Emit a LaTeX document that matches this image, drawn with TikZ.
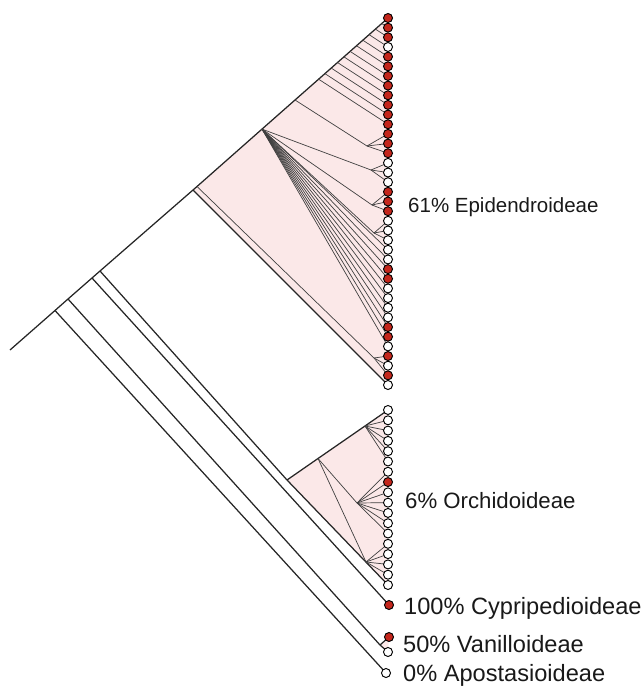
\documentclass[tikz,border=0pt]{standalone}
\usepackage{fontspec}
\setmainfont{Liberation Sans}
\pgfdeclarelayer{bg}
\pgfsetlayers{bg,main}
\definecolor{tipred}{RGB}{196,38,28}
\definecolor{pinkfill}{RGB}{251,232,232}
\begin{document}
\begin{tikzpicture}[x=1pt,y=-1pt,
  br/.style={line width=1.25pt,draw=black!85},
  fan/.style={line width=0.7pt,draw=black!75},
  tipR/.style={circle,draw=black,line width=0.95pt,fill=tipred,minimum size=9pt,inner sep=0pt},
  tipW/.style={circle,draw=black,line width=0.95pt,fill=white,minimum size=9pt,inner sep=0pt},
  lab/.style={anchor=base west,inner sep=0pt,text=black!90}]
\useasboundingbox (0,0) rectangle (643,687);
% ---------- tips: Epidendroideae ----------
\foreach \k/\c in {1/R,2/R,3/R,4/W,5/R,6/R,7/R,8/R,9/R,10/R,11/R,12/R,13/R,14/R,15/R,16/W,17/W,18/W,19/R,20/R,21/R,22/W,23/W,24/W,25/W,26/W,27/R,28/R,29/W,30/W,31/W,32/W,33/R,34/R,35/W,36/R,37/W,38/R,39/W}
  \node[tip\c] (e\k) at (388,{18+(\k-1)*9.658}) {};
% ---------- tips: Orchidoideae ----------
\foreach \k/\c in {1/W,2/W,3/W,4/W,5/W,6/W,7/W,8/R,9/W,10/W,11/W,12/W,13/W,14/W,15/W,16/W,17/W,18/W}
  \node[tip\c] (o\k) at (388,{410+(\k-1)*10.294}) {};
% ---------- other tips ----------
\node[tipR] (cyp) at (389,605) {};
\node[tipR] (va) at (389,637) {};
\node[tipW] (vb) at (388,652) {};
\node[tipW] (apo) at (386,673) {};
% ---------- internal nodes ----------
\coordinate (R0) at (10,350);
\coordinate (Ap) at (55,310.5);
\coordinate (Vn) at (68,299);
\coordinate (Cn) at (92,278);
\coordinate (On) at (100,271);
\coordinate (E0) at (193,190);
\coordinate (E1) at (197,186.5);
\coordinate (P) at (262,129.1);
\coordinate (N3) at (295,100);
\coordinate (Na) at (367,146);
\coordinate (Pa) at (371,170);
\coordinate (Pb) at (372,205);
\coordinate (Pc) at (374,233);
\coordinate (Eb) at (374,358);
\coordinate (V) at (380,645);
\coordinate (O0) at (287,480);
\coordinate (O1) at (318,458.5);
\coordinate (O2) at (365,426);
\coordinate (Od) at (357,503);
\coordinate (Ob) at (366,562);
% ladder nodes on the top edge
\foreach \k/\xx in {2/381.7,3/375.4,4/369.1,5/362.8,6/356.5,7/350.1,8/343.9,9/337.5,10/331.2,11/324.9,12/318.6}
  \coordinate (L\k) at (\xx,{360.2-0.882*\xx});
\begin{pgfonlayer}{bg}
  \fill[pinkfill] (E0) -- (e1.center) -- (e39.center) -- cycle;
  \fill[pinkfill] (O0) -- (o1.center) -- (o18.center) -- cycle;
  \fill[pinkfill] (V) -- (va.center) -- (vb.center) -- cycle;
  % backbone
  \draw[br] (R0) -- (Ap) -- (Vn) -- (Cn) -- (On) -- (E0) -- (E1) -- (P) -- (N3) -- (L12);
  \draw[br] (L12) -- (L11) -- (L10) -- (L9) -- (L8) -- (L7) -- (L6) -- (L5) -- (L4) -- (L3) -- (L2) -- (e1.center);
  \draw[br] (Ap) -- (apo.center);
  \draw[br] (Vn) -- (V);
  \draw[br] (V) -- (va.center);
  \draw[br] (V) -- (vb.center);
  \draw[br] (Cn) -- (cyp.center);
  \draw[br] (On) -- (O0);
  % Epidendroideae
  \draw[br] (E0) -- (e39.center);
  \draw[fan] (E1) -- (Eb);
  \foreach \k in {36,37,38} \draw[fan] (Eb) -- (e\k.center);
  \foreach \k in {2,...,12} \draw[fan] (L\k) -- (e\k.center);
  \draw[fan] (N3) -- (Na);
  \foreach \k in {13,14,15} \draw[fan] (Na) -- (e\k.center);
  \draw[fan] (P) -- (Pa);
  \foreach \k in {16,17,18} \draw[fan] (Pa) -- (e\k.center);
  \draw[fan] (P) -- (Pb);
  \foreach \k in {19,20,21} \draw[fan] (Pb) -- (e\k.center);
  \draw[fan] (P) -- (Pc);
  \foreach \k in {22,23,24} \draw[fan] (Pc) -- (e\k.center);
  \foreach \k in {25,...,35} \draw[fan] (P) -- (e\k.center);
  % Orchidoideae
  \draw[br] (O0) -- (o18.center);
  \draw[br] (O0) -- (O1) -- (O2) -- (o1.center);
  \draw[fan] (O1) -- (Od);
  \draw[fan] (O1) -- (Ob);
  \foreach \k in {2,...,6} \draw[fan] (O2) -- (o\k.center);
  \foreach \k in {7,...,13} \draw[fan] (Od) -- (o\k.center);
  \foreach \k in {14,...,17} \draw[fan] (Ob) -- (o\k.center);
\end{pgfonlayer}
% ---------- labels ----------
\node[lab,font=\fontsize{20.5}{24}\selectfont] (lE) at (408,212) {61\% Epidendroideae};
\node[lab,font=\fontsize{22.2}{26}\selectfont] (lO) at (405,508) {6\% Orchidoideae};
\node[lab,font=\fontsize{23.6}{28}\selectfont] (lC) at (404,614) {100\% Cypripedioideae};
\node[lab,font=\fontsize{23.6}{28}\selectfont] (lV) at (403,652) {50\% Vanilloideae};
\node[lab,font=\fontsize{23.6}{28}\selectfont] (lA) at (403,681) {0\% Apostasioideae};
\end{tikzpicture}
\end{document}
